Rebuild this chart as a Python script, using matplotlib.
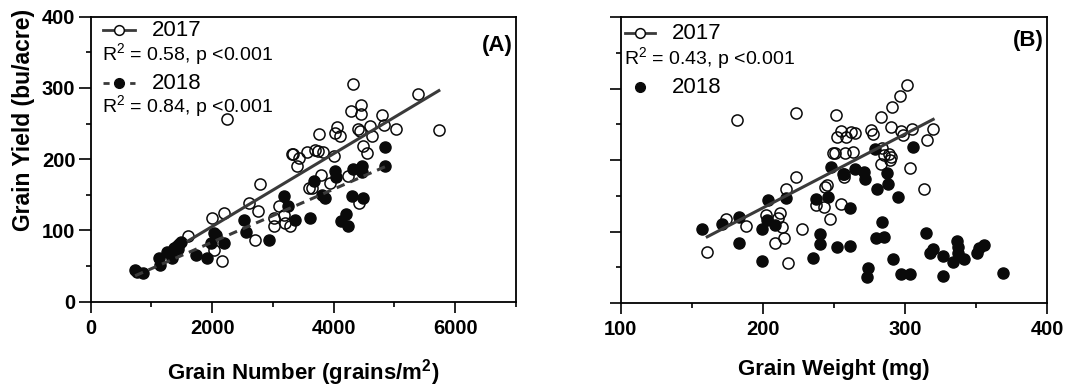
import numpy as np
import matplotlib
matplotlib.use('Agg')
import matplotlib.pyplot as plt
from matplotlib.ticker import MultipleLocator

plt.rcParams['font.family'] = ['Liberation Sans', 'DejaVu Sans']
plt.rcParams['mathtext.fontset'] = 'custom'
plt.rcParams['mathtext.rm'] = 'Liberation Sans'
plt.rcParams['mathtext.bf'] = 'Liberation Sans:bold'

# panel A: grain number vs yield
gn_2017 = [1605, 2033, 2160, 2000, 2187, 2242, 2610, 2753, 2698, 2780, 3017, 3022,
           3099, 3176, 3204, 3286, 3313, 3330, 3434, 3396, 3566, 3599, 3643, 3687,
           3737, 3759, 3792, 3825, 3935, 4006, 4017, 4056, 4099, 4231, 4286, 4325,
           4396, 4429, 4451, 4456, 4484, 4423, 4550, 4594, 4632, 4803, 4836, 5028,
           5380, 5731]
gyA_2017 = [92, 72, 57, 118, 124, 256, 139, 128, 86, 165, 106, 117,
            135, 122, 110, 106, 208, 207, 201, 191, 210, 160, 159, 213,
            212, 236, 178, 210, 166, 205, 237, 245, 233, 177, 268, 306,
            243, 239, 276, 263, 219, 139, 209, 246, 233, 262, 248, 242,
            292, 241]
gn_2018 = [731, 769, 868, 1132, 1143, 1264, 1335, 1374, 1418, 1462, 1480, 1440,
           1736, 1907, 1978, 2033, 2066, 2187, 2528, 2561, 2929, 3187, 3242, 3357,
           3605, 3682, 3803, 3863, 4017, 4033, 4121, 4209, 4231, 4303, 4314, 4473,
           4467, 4484, 4852, 4852]
gyA_2018 = [44, 41, 40, 62, 51, 70, 62, 76, 78, 81, 84, 74,
            65, 61, 82, 96, 93, 83, 115, 98, 86, 149, 134, 114,
            117, 169, 150, 146, 184, 175, 113, 123, 106, 148, 186, 190,
            182, 146, 217, 191]

# panel B: grain weight vs yield
gw_2017 = [160.9, 174.2, 181.7, 188.1, 201.9, 208.9, 210.8, 212.4, 213.8, 215.2,
           216.4, 217.8, 223.2, 223.4, 227.4, 237.5, 243.1, 244.0, 245.0, 247.3,
           249.6, 251.0, 251.5, 252.0, 254.8, 255.3, 256.9, 257.1, 257.6, 258.3,
           262.0, 263.2, 264.6, 275.9, 277.9, 283.4, 283.9, 282.9, 285.5, 288.5,
           290.0, 289.2, 290.1, 290.9, 296.7, 297.4, 298.6, 301.4, 303.3, 305.2,
           313.6, 315.7, 319.9]
gyB_2017 = [71, 118, 256, 108, 123, 84, 119, 126, 107, 91,
            160, 56, 177, 266, 104, 137, 134, 163, 165, 117,
            210, 210, 263, 232, 139, 241, 176, 180, 210, 232,
            240, 212, 238, 242, 236, 261, 217, 194, 207, 209,
            205, 200, 247, 275, 290, 241, 235, 305, 189, 243,
            159, 228, 244]
gw_2018 = [156.9, 171.0, 183.1, 183.1, 199.3, 199.3, 203.5, 203.3, 208.7, 216.4,
           235.6, 237.5, 240.3, 240.3, 246.1, 247.8, 252.0, 256.4, 261.1, 261.6,
           265.1, 271.0, 272.1, 274.2, 273.3, 279.2, 280.6, 284.1, 279.9, 285.5,
           287.6, 288.1, 291.6, 294.9, 297.2, 303.5, 305.6, 314.7, 318.0, 320.1,
           326.7, 326.5, 334.2, 337.0, 337.7, 337.2, 341.5, 350.8, 352.5, 356.0,
           369.3]
gyB_2018 = [104, 111, 121, 84, 104, 59, 144, 116, 109, 147,
            63, 145, 97, 82, 148, 190, 79, 181, 80, 133,
            188, 184, 174, 49, 37, 216, 159, 113, 91, 92,
            182, 167, 61, 148, 41, 41, 218, 98, 70, 75,
            66, 38, 57, 87, 78, 70, 62, 70, 77, 81,
            42]

# regression lines (slope, intercept)
fitA_2017 = (0.0511, 3.4)
fitA_2018 = (0.0372, 9.2)
fitB_2017 = (1.034, -73.7)

line_col = '#3a3a3a'
pt_col = '#0a0a0a'


def fit_line(ax, xs, fit, **kw):
    xx = np.array([min(xs), max(xs)])
    ax.plot(xx, fit[0] * xx + fit[1], color=line_col, lw=2.2, zorder=3, **kw)


def style_axes(ax):
    for s in ax.spines.values():
        s.set_linewidth(1.3)
    ax.tick_params(which='major', direction='out', length=8, width=1.2,
                   labelsize=14.5, pad=4.5)
    ax.tick_params(which='minor', direction='out', length=3.8, width=1.2)
    ax.tick_params(top=False, right=False, which='both')
    for t in ax.get_xticklabels() + ax.get_yticklabels():
        t.set_fontweight('bold')


fig = plt.figure(figsize=(10.68, 3.87), dpi=100)
axA = fig.add_axes([0.0849, 0.2204, 0.3982, 0.7364])
axB = fig.add_axes([0.5812, 0.2171, 0.3991, 0.7382])

# ---- panel A
axA.plot(gn_2017, gyA_2017, 'o', ms=8, mfc='none', mec=pt_col, mew=1.1, zorder=2)
axA.plot(gn_2018, gyA_2018, 'o', ms=8, mfc=pt_col, mec=pt_col, zorder=2)
fit_line(axA, gn_2017, fitA_2017)
fit_line(axA, gn_2018, fitA_2018, linestyle=(0, (2.8, 2)))
axA.set_xlim(0, 7000)
axA.set_ylim(0, 400)
axA.xaxis.set_major_locator(MultipleLocator(2000))
axA.xaxis.set_minor_locator(MultipleLocator(1000))
axA.yaxis.set_major_locator(MultipleLocator(100))
axA.yaxis.set_minor_locator(MultipleLocator(50))
style_axes(axA)
axA.tick_params(axis='y', which='major', length=9, pad=2)
axA.set_xlabel(r'Grain Number (grains/m$^{\mathbf{2}}$)', fontsize=16,
               fontweight='bold', labelpad=14)
axA.set_ylabel('Grain Yield (bu/acre)', fontsize=16.5, fontweight='bold')
axA.yaxis.set_label_coords(-0.131, 0.637)

tr = axA.transAxes
axA.plot([0.029, 0.104], [0.953, 0.953], color=line_col, lw=2, transform=tr, clip_on=False)
axA.plot([0.0666], [0.953], 'o', ms=7, mfc='white', mec=pt_col, mew=1.1, transform=tr)
axA.text(0.144, 0.953, '2017', fontsize=16, va='center', ha='left', transform=tr)
axA.text(0.026, 0.866, r'R$^2$ = 0.58, p <0.001', fontsize=14, va='center', ha='left', transform=tr)
axA.plot([0.029, 0.104], [0.767, 0.767], color=line_col, lw=2, linestyle=(0, (2.2, 2.6)),
         transform=tr, clip_on=False)
axA.plot([0.0666], [0.767], 'o', ms=7, mfc=pt_col, mec=pt_col, transform=tr)
axA.text(0.144, 0.767, '2018', fontsize=16, va='center', ha='left', transform=tr)
axA.text(0.026, 0.683, r'R$^2$ = 0.84, p <0.001', fontsize=14, va='center', ha='left', transform=tr)
axA.text(0.992, 0.90, '(A)', fontsize=16, fontweight='bold', va='center', ha='right', transform=tr)

# ---- panel B
axB.plot(gw_2017, gyB_2017, 'o', ms=8, mfc='none', mec=pt_col, mew=1.1, zorder=2)
axB.plot(gw_2018, gyB_2018, 'o', ms=8, mfc=pt_col, mec=pt_col, zorder=2)
fit_line(axB, gw_2017, fitB_2017)
axB.set_xlim(100, 400)
axB.set_ylim(0, 400)
axB.xaxis.set_major_locator(MultipleLocator(100))
axB.xaxis.set_minor_locator(MultipleLocator(50))
axB.yaxis.set_major_locator(MultipleLocator(100))
axB.yaxis.set_minor_locator(MultipleLocator(50))
style_axes(axB)
axB.tick_params(axis='y', labelleft=False)
axB.set_xlabel('Grain Weight (mg)', fontsize=16, fontweight='bold', labelpad=14)

tr = axB.transAxes
axB.plot([0.010, 0.0805], [0.945, 0.945], color=line_col, lw=2, transform=tr, clip_on=False)
axB.plot([0.0454], [0.945], 'o', ms=7, mfc='white', mec=pt_col, mew=1.1, transform=tr)
axB.text(0.120, 0.945, '2017', fontsize=16, va='center', ha='left', transform=tr)
axB.text(0.008, 0.854, r'R$^2$ = 0.43, p <0.001', fontsize=14, va='center', ha='left', transform=tr)
axB.plot([0.0454], [0.756], 'o', ms=7, mfc=pt_col, mec=pt_col, transform=tr)
axB.text(0.120, 0.756, '2018', fontsize=16, va='center', ha='left', transform=tr)
axB.text(0.992, 0.92, '(B)', fontsize=16, fontweight='bold', va='center', ha='right', transform=tr)

fig.savefig('out.png', dpi=100)
